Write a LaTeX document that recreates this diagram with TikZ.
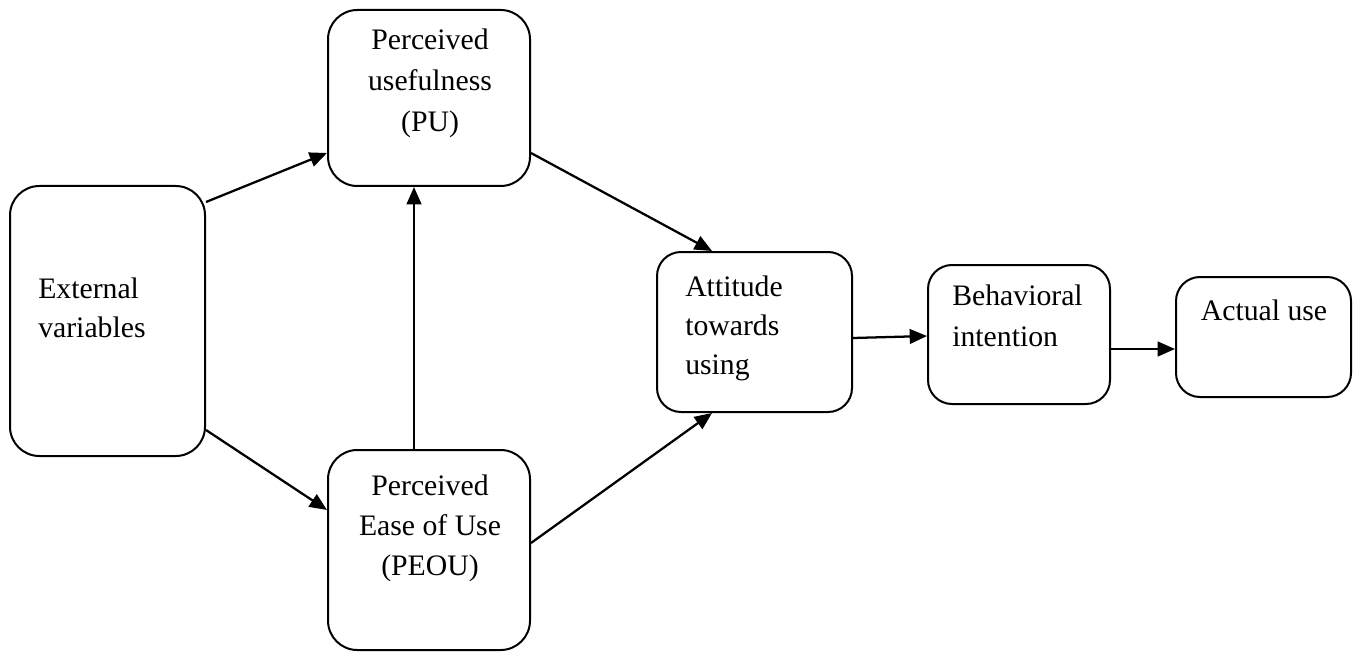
\documentclass[tikz,border=0pt]{standalone}
\usepackage{fontspec}
\setmainfont{Liberation Serif}
\usetikzlibrary{fit,arrows.meta}
\begin{document}
\begin{tikzpicture}[x=0.75pt,y=-0.75pt,
  box/.style={draw, line width=1.5pt, inner sep=0pt, rounded corners=#1},
  box/.default=22pt,
  lbl/.style={inner sep=0pt, font=\fontsize{22.3}{30}\selectfont},
  arr/.style={line width=1.7pt, -{Triangle[length=13pt,width=11pt]}}]
\useasboundingbox (0,0) rectangle (1358,652);
\node[box] (ext) [fit={(10,186)(205,456)}] {};
\node[box] (pu) [fit={(328,10)(530,186)}] {};
\node[box] (peou) [fit={(328,450)(530,650)}] {};
\node[box=18pt] (att) [fit={(657,252)(852,412)}] {};
\node[box=18pt] (bi) [fit={(928,265)(1110,404)}] {};
\node[box=18pt] (au) [fit={(1176,277)(1351,397)}] {};
% texts
\node[lbl, anchor=base west] (t1a) at (38,298) {External};
\node[lbl, anchor=base west] (t1b) at (38,337) {variables};
\node[lbl, anchor=base] (t2a) at (430,50) {Perceived};
\node[lbl, anchor=base] (t2b) at (430,91) {usefulness};
\node[lbl, anchor=base] (t2c) at (430,132) {(PU)};
\node[lbl, anchor=base] (t3a) at (430,495) {Perceived};
\node[lbl, anchor=base] (t3b) at (430,535) {Ease of Use};
\node[lbl, anchor=base] (t3c) at (430,575) {(PEOU)};
\node[lbl, anchor=base west] (t4a) at (685,296) {Attitude};
\node[lbl, anchor=base west] (t4b) at (685,335) {towards};
\node[lbl, anchor=base west] (t4c) at (685,374) {using};
\node[lbl, anchor=base west] (t5a) at (952,305) {Behavioral};
\node[lbl, anchor=base west] (t5b) at (952,346) {intention};
\node[lbl, anchor=base] (t6a) at (1264,320) {Actual use};
% arrows
\draw[arr] (ext.east |- 0,202) -- (pu.west |- 0,153);
\draw[arr] (ext.east |- 0,430) -- (peou.west |- 0,510);
\draw[arr] (414,0 |- peou.north) -- (414,0 |- pu.south);
\draw[arr] (pu.east |- 0,153) -- (712,0 |- att.north);
\draw[arr] (peou.east |- 0,543) -- (712,0 |- att.south);
\draw[arr] (att.east |- 0,338) -- (bi.west |- 0,336);
\draw[arr] (bi.east |- 0,349) -- (au.west |- 0,349);
\end{tikzpicture}
\end{document}
